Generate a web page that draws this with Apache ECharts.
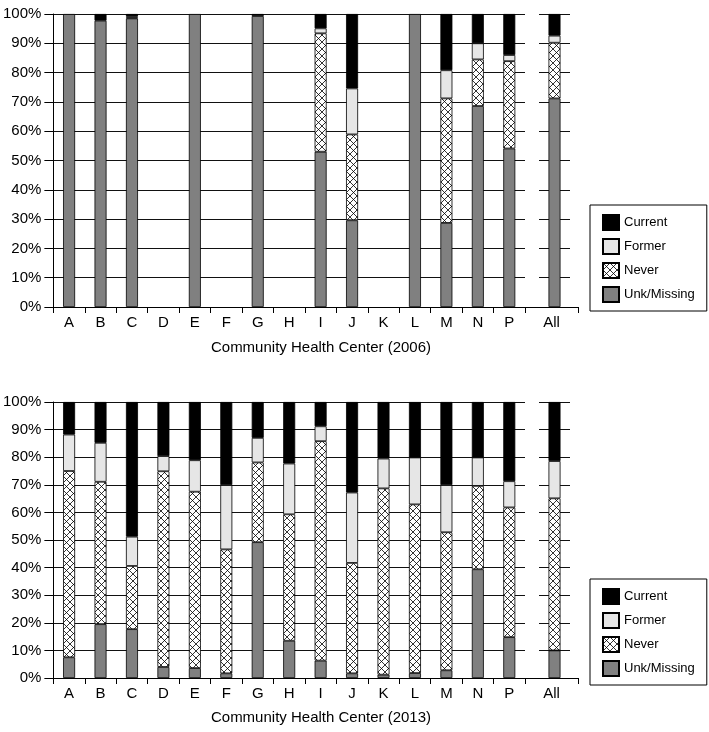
<!DOCTYPE html>
<html>
<head>
<meta charset="utf-8">
<script src="https://cdn.jsdelivr.net/npm/echarts@6/dist/echarts.min.js"></script>
<style>
  html, body { margin: 0; padding: 0; background: #fff; }
  #main { width: 709px; height: 732px; }
</style>
</head>
<body>
<div id="main"></div>
<script>
var cats = ['A', 'B', 'C', 'D', 'E', 'F', 'G', 'H', 'I', 'J', 'K', 'L', 'M', 'N', 'P'];
var allCat = ['All'];
var names = ['Unk/Missing', 'Never', 'Former', 'Current'];
var legendOrder = ['Current', 'Former', 'Never', 'Unk/Missing'];

// 2006 (percent)
var unk06     = [100, 97.7, 98.5, 0, 100, 0, 99.3, 0, 53.0, 29.6, 0, 100, 28.7, 68.6, 54.1];
var never06   = [0, 0, 0.3, 0, 0, 0, 0, 0, 40.4, 29.3, 0, 0, 42.5, 15.9, 29.8];
var former06  = [0, 0, 0.4, 0, 0, 0, 0, 0, 1.7, 15.7, 0, 0, 9.6, 5.5, 2.1];
var current06 = [0, 2.3, 0.8, 0, 0, 0, 0.7, 0, 4.9, 25.4, 0, 0, 19.2, 10.0, 14.0];
var all06     = [71.2, 19.0, 2.4, 7.4]; // unk, never, former, current

// 2013 (percent)
var unk13     = [7.5, 19.5, 17.7, 4.0, 3.6, 1.7, 49.2, 13.5, 6.3, 1.7, 1.2, 1.8, 2.8, 39.4, 14.8];
var never13   = [67.5, 51.6, 22.9, 70.9, 63.9, 44.9, 28.9, 45.8, 79.5, 40.0, 67.5, 61.1, 50.0, 30.2, 47.0];
var former13  = [13.2, 14.1, 10.6, 5.5, 11.4, 23.3, 8.9, 18.4, 5.4, 25.5, 10.8, 17.0, 17.1, 10.3, 9.5];
var current13 = [11.8, 14.8, 48.8, 19.6, 21.1, 30.1, 13.0, 22.3, 8.8, 32.8, 20.5, 20.1, 30.1, 20.1, 28.7];
var all13     = [10.0, 55.1, 13.5, 21.4];

var FONT = 'Liberation Sans, Arial, sans-serif';

// crosshatch fill for "Never"
function crossHatch() {
    var c = document.createElement('canvas');
    c.width = 7; c.height = 7;
    var ctx = c.getContext('2d');
    ctx.fillStyle = '#fff';
    ctx.fillRect(0, 0, 7, 7);
    ctx.strokeStyle = '#000';
    ctx.lineWidth = 0.8;
    ctx.beginPath();
    ctx.moveTo(0, 0); ctx.lineTo(7, 7);
    ctx.moveTo(7, 0); ctx.lineTo(0, 7);
    ctx.stroke();
    return c;
}
var fills = {
    'Unk/Missing': '#808080',
    'Never': {image: crossHatch(), repeat: 'repeat'},
    'Former': '#e6e6e6',
    'Current': '#000'
};

function nz(arr) {
    return arr.map(function (v) { return v === 0 ? '-' : v; });
}

var grids = [], xAxes = [], yAxes = [], series = [];

function addPanel(p, top, h, cols, allVals) {
    var g = 3 * p;
    grids.push(
        {left: 50, top: top, width: 475, height: h},
        {left: 525, top: top, width: 53, height: h},
        {left: 539, top: top, width: 31, height: h}
    );
    var xLine = {show: true, lineStyle: {color: '#000', width: 1}};
    var xTick = {show: true, length: 6, lineStyle: {color: '#000'}};
    var xLabel = {color: '#000', fontSize: 15, fontFamily: FONT, margin: 8, interval: 0};
    xAxes.push(
        {gridIndex: g, type: 'category', data: cats, axisLine: xLine, axisTick: xTick, axisLabel: xLabel},
        {gridIndex: g + 1, type: 'category', data: allCat, axisLine: xLine, axisTick: xTick, axisLabel: xLabel},
        {gridIndex: g + 2, type: 'category', data: allCat, show: false}
    );
    var split = {show: true, lineStyle: {color: '#111', width: 1}};
    yAxes.push(
        {gridIndex: g, type: 'value', min: 0, max: 100, interval: 10,
         axisLine: {show: true, lineStyle: {color: '#000'}},
         axisTick: {show: true, length: 9, lineStyle: {color: '#000'}},
         axisLabel: {formatter: '{value}%', color: '#000', fontSize: 15, fontFamily: FONT, margin: 12},
         splitLine: split},
        {gridIndex: g + 1, type: 'value', min: 0, max: 100, show: false},
        {gridIndex: g + 2, type: 'value', min: 0, max: 100, interval: 10,
         axisLine: {show: false}, axisTick: {show: false}, axisLabel: {show: false},
         splitLine: split}
    );
    names.forEach(function (n, i) {
        var style = {color: fills[n], borderColor: '#000', borderWidth: 0.8};
        series.push({
            name: n, type: 'bar', stack: 'p' + p, xAxisIndex: g, yAxisIndex: g,
            barWidth: 12, itemStyle: style, data: nz(cols[i]), animation: false
        });
        series.push({
            name: n, type: 'bar', stack: 'a' + p, xAxisIndex: g + 2, yAxisIndex: g + 2,
            barWidth: 12, itemStyle: style, data: nz([allVals[i]]), animation: false
        });
    });
}

addPanel(0, 14, 293, [unk06, never06, former06, current06], all06);
addPanel(1, 402, 276, [unk13, never13, former13, current13], all13);

function legendAt(top) {
    return {
        left: 590, top: top, orient: 'vertical',
        data: legendOrder,
        icon: 'rect', itemWidth: 16, itemHeight: 15, itemGap: 7,
        padding: [9, 12, 8, 12],
        borderColor: '#000', borderWidth: 1,
        textStyle: {color: '#000', fontSize: 13, lineHeight: 15, fontFamily: FONT},
        selectedMode: false
    };
}

var option = {
    backgroundColor: '#fff',
    animation: false,
    grid: grids,
    xAxis: xAxes,
    yAxis: yAxes,
    legend: [legendAt(205), legendAt(579)],
    series: series,
    graphic: [
        {type: 'text', x: 321, y: 348,
         style: {text: 'Community Health Center (2006)', font: '15px ' + FONT, fill: '#000',
                  textAlign: 'center', textVerticalAlign: 'middle'}},
        {type: 'text', x: 321, y: 718,
         style: {text: 'Community Health Center (2013)', font: '15px ' + FONT, fill: '#000',
                  textAlign: 'center', textVerticalAlign: 'middle'}}
    ]
};

var myChart = echarts.init(document.getElementById('main'));
myChart.setOption(option);
</script>
</body>
</html>
